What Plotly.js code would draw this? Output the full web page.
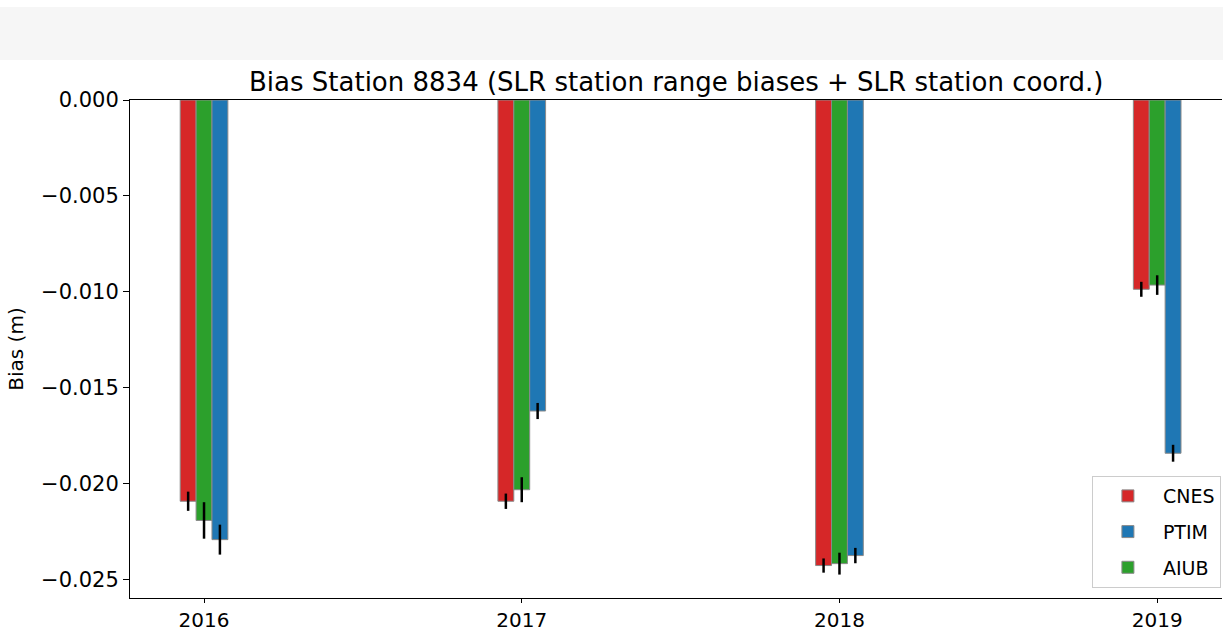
<!DOCTYPE html>
<html>
<head>
<meta charset="utf-8">
<script src="https://cdn.plot.ly/plotly-3.0.1.min.js"></script>
<style>html,body{margin:0;padding:0;background:#fff;}#chart{width:1223px;height:632px;}</style>
</head>
<body>
<div id="chart"></div>
<script>
const years = [2016, 2017, 2018, 2019];
const cnes = [-0.0209, -0.0209, -0.02425, -0.00986];
const cnesErr = [0.0005, 0.0004, 0.00037, 0.00039];
const aiub = [-0.0219, -0.0203, -0.02415, -0.00964];
const aiubErr = [0.00095, 0.00065, 0.00057, 0.00051];
const ptim = [-0.0229, -0.0162, -0.02373, -0.0184];
const ptimErr = [0.00078, 0.00042, 0.0004, 0.00044];

function mk(name, y, err, color, rank) {
  return {
    type: 'bar', name: name, x: years, y: y, legendrank: rank, legendgroup: name,
    marker: {color: color, line: {color: '#8a8a8a', width: 1}},
    error_y: {type: 'data', array: err, visible: true, color: '#000', thickness: 2.5, width: 0}
  };
}
const data = [
  mk('CNES', cnes, cnesErr, '#d62728', 1),
  mk('AIUB', aiub, aiubErr, '#2ca02c', 3),
  mk('PTIM', ptim, ptimErr, '#1f77b4', 2)
];
const font = {family: 'DejaVu Sans, sans-serif', color: '#000'};
const layout = {
  width: 1223, height: 632,
  margin: {l: 130, r: 1, t: 100, b: 34},
  paper_bgcolor: '#fff', plot_bgcolor: '#fff',
  barmode: 'group', bargap: 0.85, bargroupgap: 0,
  showlegend: true,
  font: Object.assign({size: 20}, font),
  title: {text: 'Bias Station 8834 (SLR station range biases + SLR station coord.)',
          font: Object.assign({size: 26}, font), x: 0.5529, xanchor: 'center',
          y: 1 - 82/632, yanchor: 'middle', yref: 'container'},
  xaxis: {range: [2015.767, 2019.204], tickvals: years, ticktext: years.map(String),
          showgrid: false, zeroline: false, showline: true, mirror: true, linecolor: '#000', linewidth: 1,
          ticks: 'outside', ticklen: 4, tickcolor: '#000', tickfont: Object.assign({size: 20}, font)},
  yaxis: {range: [-0.02594, 0], tickvals: [0, -0.005, -0.01, -0.015, -0.02, -0.025], tickformat: '.3f',
          showgrid: false, zeroline: false, showline: true, linecolor: '#000', linewidth: 1,
          ticks: 'outside', ticklen: 6, tickcolor: '#000', tickfont: Object.assign({size: 21}, font),
          title: {text: 'Bias (m)', font: Object.assign({size: 20}, font), standoff: 12}},
  legend: {x: 0.999, y: 0.02, xanchor: 'right', yanchor: 'bottom', bordercolor: '#cccccc', borderwidth: 1,
           bgcolor: '#fff', font: Object.assign({size: 19}, font), itemwidth: 60, tracegroupgap: 8},
  shapes: [{type: 'rect', xref: 'paper', yref: 'paper', x0: -130/1092, x1: 1 + 1/1092,
            y0: 1 + 40/498, y1: 1 + 93/498, fillcolor: '#f6f6f6', line: {width: 0}, layer: 'below'}]
};
Plotly.newPlot('chart', data, layout, {displayModeBar: false, staticPlot: true});
</script>
</body>
</html>
